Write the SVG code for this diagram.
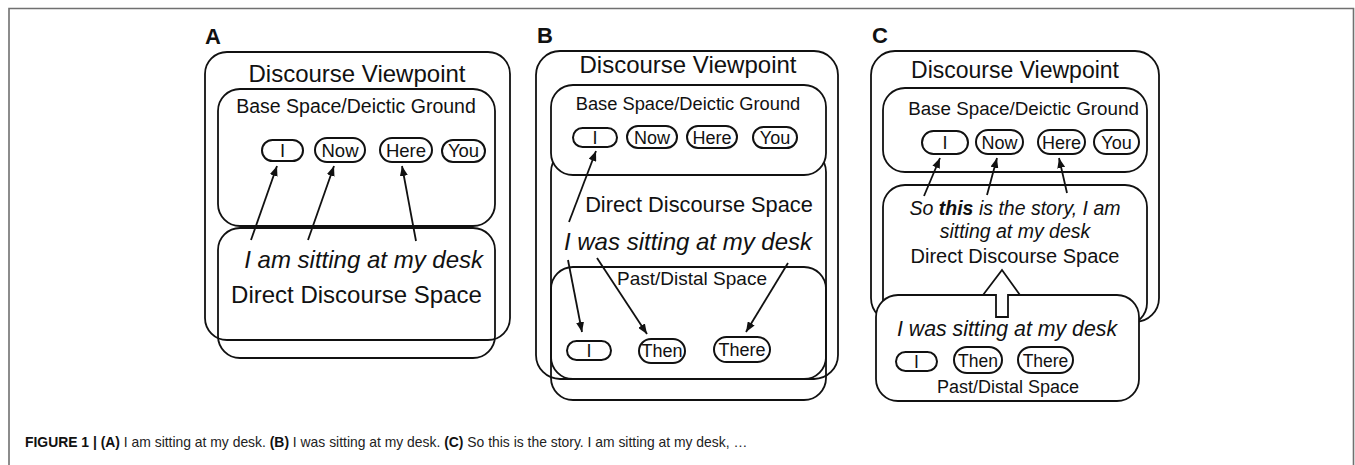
<svg xmlns="http://www.w3.org/2000/svg" width="1355" height="465" viewBox="0 0 1355 465">
  <style>
    .frame { fill: none; stroke: #707070; stroke-width: 1.6; }
    .box { fill: none; stroke: #111; stroke-width: 1.8; }
    .boxw { fill: #fff; stroke: #111; stroke-width: 1.8; }
    .pill { fill: #fff; stroke: #111; stroke-width: 2; }
    .t { font-family: "Liberation Sans", Arial, Helvetica, sans-serif; fill: #111; }
    .lbl { font-family: "Liberation Sans", Arial, sans-serif; font-weight: bold; font-size: 22px; fill: #111; }
    .c { text-anchor: middle; }
    .it { font-style: italic; }
    .conn line { stroke: #111; stroke-width: 1.8; marker-end: url(#head); }
    .cap { font-family: "Liberation Sans", Arial, sans-serif; font-size: 13.9px; fill: #222; }
  </style>
  <defs>
    <marker id="head" markerUnits="userSpaceOnUse" markerWidth="10" markerHeight="8" refX="10" refY="4" orient="auto">
      <path d="M0,0 L10,4 L0,8 z" fill="#111"/>
    </marker>
  </defs>

  <rect width="1355" height="465" fill="#fff"/>
  <!-- figure frame (open at the bottom) -->
  <path class="frame" d="M9,465 V8.5 H1353.5 V465"/>

  <!-- ===== Panel A ===== -->
  <text class="lbl" x="205" y="44">A</text>
  <g id="a-viewpoint">
    <rect class="box" x="205" y="52" width="305" height="288" rx="22"/>
    <text class="t c" x="357" y="82" font-size="24">Discourse Viewpoint</text>
  </g>
  <g id="a-base">
    <rect class="box" x="218" y="89" width="277" height="137" rx="22"/>
    <text class="t c" x="356" y="113" font-size="19.5">Base Space/Deictic Ground</text>
  </g>
  <g id="a-i"><rect class="pill" x="262" y="140" width="41" height="21" rx="10.5"/><text class="t c" x="282.5" y="157" font-size="18.5">I</text></g>
  <g id="a-now"><rect class="pill" x="315" y="138" width="50" height="24" rx="12"/><text class="t c" x="340" y="157" font-size="18.5">Now</text></g>
  <g id="a-here"><rect class="pill" x="380" y="138" width="52" height="24" rx="12"/><text class="t c" x="406" y="157" font-size="18.5">Here</text></g>
  <g id="a-you"><rect class="pill" x="442" y="140" width="43" height="22" rx="11"/><text class="t c" x="463.5" y="157" font-size="18.5">You</text></g>
  <g id="a-direct">
    <rect class="box" x="218" y="228" width="277" height="130" rx="22"/>
    <text class="t it" x="483" y="268" font-size="24" text-anchor="end">I am sitting at my desk</text>
    <text class="t c" x="356.5" y="303" font-size="24">Direct Discourse Space</text>
  </g>

  <!-- ===== Panel B ===== -->
  <text class="lbl" x="537" y="43">B</text>
  <g id="b-viewpoint">
    <rect class="box" x="536" y="51" width="302" height="328" rx="24"/>
    <text class="t c" x="688" y="73" font-size="24">Discourse Viewpoint</text>
  </g>
  <g id="b-direct">
    <rect class="box" x="551" y="150" width="275" height="250" rx="22"/>
    <text class="t c" x="699" y="212" font-size="21.8">Direct Discourse Space</text>
    <text class="t it c" x="688" y="250" font-size="24">I was sitting at my desk</text>
  </g>
  <g id="b-past">
    <rect class="box" x="551" y="267" width="275" height="112" rx="22"/>
    <text class="t c" x="692" y="285" font-size="19">Past/Distal Space</text>
  </g>
  <g id="b-base">
    <rect class="boxw" x="551" y="85" width="275" height="90" rx="22"/>
    <text class="t c" x="688" y="110" font-size="18.3">Base Space/Deictic Ground</text>
  </g>
  <g id="b-i"><rect class="pill" x="573" y="128" width="44" height="19" rx="9.5"/><text class="t c" x="595" y="144" font-size="18">I</text></g>
  <g id="b-now"><rect class="pill" x="627" y="126" width="50" height="22" rx="11"/><text class="t c" x="652" y="144" font-size="18">Now</text></g>
  <g id="b-here"><rect class="pill" x="687" y="126" width="50" height="22" rx="11"/><text class="t c" x="712" y="144" font-size="18">Here</text></g>
  <g id="b-you"><rect class="pill" x="753" y="127" width="44" height="21" rx="10.5"/><text class="t c" x="775" y="144" font-size="18">You</text></g>
  <g id="b-pi"><rect class="pill" x="567" y="341" width="44" height="19" rx="9.5"/><text class="t c" x="589" y="357" font-size="18">I</text></g>
  <g id="b-then"><rect class="pill" x="639" y="339" width="46" height="24" rx="12"/><text class="t c" x="662" y="357" font-size="18">Then</text></g>
  <g id="b-there"><rect class="pill" x="714" y="337" width="56" height="25" rx="12.5"/><text class="t c" x="742" y="356" font-size="18">There</text></g>

  <!-- ===== Panel C ===== -->
  <text class="lbl" x="872" y="43">C</text>
  <g id="c-viewpoint">
    <rect class="box" x="871" y="51" width="288" height="271" rx="24"/>
    <text class="t c" x="1015" y="78" font-size="23">Discourse Viewpoint</text>
  </g>
  <g id="c-base">
    <rect class="box" x="883" y="88" width="264" height="84" rx="22"/>
    <text class="t c" x="1023.5" y="115" font-size="18.8">Base Space/Deictic Ground</text>
  </g>
  <g id="c-i"><rect class="pill" x="922" y="131" width="46" height="23" rx="11.5"/><text class="t c" x="945" y="149" font-size="18">I</text></g>
  <g id="c-now"><rect class="pill" x="976" y="130" width="47" height="24" rx="12"/><text class="t c" x="999.5" y="149" font-size="18">Now</text></g>
  <g id="c-here"><rect class="pill" x="1038" y="130" width="47" height="24" rx="12"/><text class="t c" x="1061.5" y="149" font-size="18">Here</text></g>
  <g id="c-you"><rect class="pill" x="1094" y="130" width="45" height="24" rx="12"/><text class="t c" x="1116.5" y="149" font-size="18">You</text></g>
  <g id="c-direct">
    <rect class="box" x="883" y="185" width="264" height="140" rx="22"/>
    <text class="t it c" x="1015" y="215" font-size="19.5">So <tspan font-weight="bold">this</tspan> is the story, I am</text>
    <text class="t it c" x="1015" y="238" font-size="19.5">sitting at my desk</text>
    <text class="t c" x="1015" y="263" font-size="20">Direct Discourse Space</text>
  </g>
  <g id="c-past">
    <rect class="boxw" x="876" y="295" width="263" height="106" rx="22"/>
    <text class="t it c" x="1007" y="336" font-size="21.3">I was sitting at my desk</text>
    <text class="t c" x="1008" y="393" font-size="18">Past/Distal Space</text>
  </g>
  <g id="c-pi"><rect class="pill" x="896" y="352" width="41" height="19" rx="9.5"/><text class="t c" x="916.5" y="368" font-size="17.5">I</text></g>
  <g id="c-then"><rect class="pill" x="954" y="347" width="48" height="26" rx="13"/><text class="t c" x="978" y="367" font-size="17.5">Then</text></g>
  <g id="c-there"><rect class="pill" x="1018" y="347" width="55" height="26" rx="13"/><text class="t c" x="1045.5" y="367" font-size="17.5">There</text></g>

  <!-- connectors -->
  <g id="connectors" class="conn">
    <line x1="251" y1="240" x2="277" y2="166"/>
    <line x1="308" y1="240" x2="334" y2="166"/>
    <line x1="416" y1="241" x2="402" y2="166"/>

    <line x1="569" y1="222" x2="596" y2="151"/>
    <line x1="568" y1="260" x2="582" y2="332"/>
    <line x1="597" y1="258" x2="647" y2="334"/>
    <line x1="788" y1="263" x2="746" y2="332"/>

    <line x1="924" y1="196" x2="940" y2="158"/>
    <line x1="987" y1="195" x2="997" y2="158"/>
    <line x1="1067" y1="193" x2="1059" y2="158"/>

    <polygon points="1002,270 1020,295 1008,295 1008,317 996,317 996,295 983,295" fill="#fff" stroke="#111" stroke-width="1.8" stroke-linejoin="miter"/>
  </g>

  <!-- caption -->
  <text class="cap" x="25" y="447"><tspan font-weight="bold" fill="#111">FIGURE 1 | (A)</tspan> I am sitting at my desk. <tspan font-weight="bold" fill="#111">(B)</tspan> I was sitting at my desk. <tspan font-weight="bold" fill="#111">(C)</tspan> So this is the story. I am sitting at my desk, …</text>
</svg>
